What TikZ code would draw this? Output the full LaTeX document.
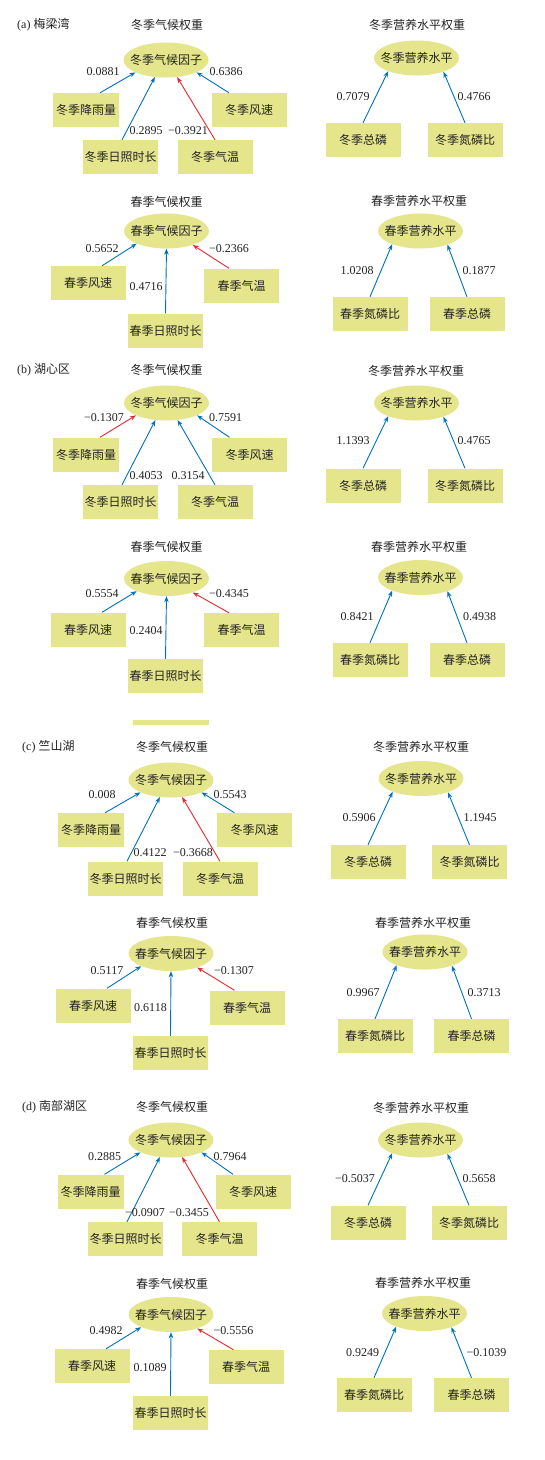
\documentclass[tikz,border=0pt]{standalone}
\usepackage{fontspec}
\setmainfont{Liberation Serif}
\newfontfamily\cjk{Noto Sans CJK SC}
\usetikzlibrary{shapes.geometric,arrows.meta}
\definecolor{boxfill}{RGB}{229,229,140}
\definecolor{arrblue}{RGB}{0,114,188}
\definecolor{arrred}{RGB}{232,40,48}
\definecolor{txt}{RGB}{35,35,35}
\begin{document}
\begin{tikzpicture}[x=1pt,y=-1pt,
  every node/.style={font=\fontsize{12}{14}\selectfont, text=txt},
  ybox/.style={rectangle, fill=boxfill, draw=none, minimum width=75pt, minimum height=34pt, inner sep=0pt, font=\fontsize{12}{14}\selectfont\cjk},
  rbox/.style={ybox, minimum width=66pt},
  ell/.style={ellipse, fill=boxfill, draw=none, minimum width=85pt, minimum height=35pt, inner sep=0pt},
  etext/.style={font=\fontsize{12}{14}\selectfont\cjk, inner sep=0pt},
  ttl/.style={font=\fontsize{12}{14}\selectfont\cjk, inner sep=0pt},
  plab/.style={anchor=west, inner sep=0pt},
  num/.style={inner sep=0pt},
  barrow/.style={draw=arrblue, line width=0.9pt, -{Stealth[length=6pt,width=4.5pt]}},
  rarrow/.style={draw=arrred, line width=0.9pt, -{Stealth[length=6pt,width=4.5pt]}}
]
\useasboundingbox (0,0) rectangle (544,1460);
\fill[white] (0,0) rectangle (544,1460);

% ================= (a) =================
\node[plab] (aL) at (17,25) {(a) {\cjk 梅梁湾}};
% winter climate
\node[ttl] (a1t) at (167,25) {冬季气候权重};
\node[ell] (a1e) at (166,60) {};
\node[etext] (a1x) at (a1e.center) {冬季气候因子};
\node[rbox] (a1r) at (86,110) {冬季降雨量};
\node[ybox] (a1w) at (249,110) {冬季风速};
\node[ybox] (a1s) at (120.5,157) {冬季日照时长};
\node[ybox] (a1m) at (215,157) {冬季气温};
\draw[barrow] ([xshift=14pt]a1r.north) -- (a1e.202);
\draw[barrow] ([xshift=-20pt]a1w.north) -- (a1e.338);
\draw[barrow] ([xshift=1.5pt]a1s.north) -- (a1e.237);
\draw[rarrow] (a1m.north) -- (a1e.303);
\node[num] (a1l1) at (103,72) {0.0881};
\node[num] (a1l2) at (226,72) {0.6386};
\node[num] (a1l3) at (146,131) {0.2895};
\node[num] (a1l4) at (188,131) {−0.3921};
% spring climate
\node[ttl] (a2t) at (166.5,202) {春季气候权重};
\node[ell] (a2e) at (166.5,231) {};
\node[etext] (a2x) at (a2e.center) {春季气候因子};
\node[ybox] (a2w) at (88,283) {春季风速};
\node[ybox] (a2m) at (241.5,285.5) {春季气温};
\node[ybox] (a2s) at (165.5,330.5) {春季日照时长};
\draw[barrow] ([xshift=14pt]a2w.north) -- (a2e.203);
\draw[barrow] (a2s.north) -- (a2e.south);
\draw[rarrow] ([xshift=-12.5pt]a2m.north) -- (a2e.332);
\node[num] (a2l1) at (102,249) {0.5652};
\node[num] (a2l2) at (146,287) {0.4716};
\node[num] (a2l3) at (229,249) {−0.2366};
% winter nutrient
\node[ttl] (a3t) at (417,25) {冬季营养水平权重};
\node[ell] (a3e) at (416.5,58) {};
\node[etext] (a3x) at (a3e.center) {冬季营养水平};
\node[ybox] (a3p) at (363,140) {冬季总磷};
\node[ybox] (a3n) at (465,140) {冬季氮磷比};
\draw[barrow] (a3p.north) -- (a3e.205);
\draw[barrow] (a3n.north) -- (a3e.333);
\node[num] (a3l1) at (353,97) {0.7079};
\node[num] (a3l2) at (474,97) {0.4766};
% spring nutrient
\node[ttl] (a4t) at (419,201) {春季营养水平权重};
\node[ell] (a4e) at (420.5,231) {};
\node[etext] (a4x) at (a4e.center) {春季营养水平};
\node[ybox] (a4n) at (370,314) {春季氮磷比};
\node[ybox] (a4p) at (467,314) {春季总磷};
\draw[barrow] (a4n.north) -- (a4e.205);
\draw[barrow] (a4p.north) -- (a4e.333);
\node[num] (a4l1) at (357,271) {1.0208};
\node[num] (a4l2) at (479,271) {0.1877};

% ================= (b) =================
\node[plab] (bL) at (17,370) {(b) {\cjk 湖心区}};
\node[ttl] (b1t) at (166.5,370) {冬季气候权重};
\node[ell] (b1e) at (166.5,403) {};
\node[etext] (b1x) at (b1e.center) {冬季气候因子};
\node[rbox] (b1r) at (86,454.5) {冬季降雨量};
\node[ybox] (b1w) at (249.5,454.5) {冬季风速};
\node[ybox] (b1s) at (120.5,502) {冬季日照时长};
\node[ybox] (b1m) at (215,502) {冬季气温};
\draw[rarrow] ([xshift=14pt]b1r.north) -- (b1e.202);
\draw[barrow] ([xshift=-20pt]b1w.north) -- (b1e.338);
\draw[barrow] ([xshift=1.5pt]b1s.north) -- (b1e.237);
\draw[barrow] (b1m.north) -- (b1e.303);
\node[num] (b1l1) at (104,418) {−0.1307};
\node[num] (b1l2) at (225.5,418) {0.7591};
\node[num] (b1l3) at (146,476) {0.4053};
\node[num] (b1l4) at (188,476) {0.3154};
\node[ttl] (b2t) at (166.5,547) {春季气候权重};
\node[ell] (b2e) at (166.5,578.5) {};
\node[etext] (b2x) at (b2e.center) {春季气候因子};
\node[ybox] (b2w) at (88,629.5) {春季风速};
\node[ybox] (b2m) at (241.5,630) {春季气温};
\node[ybox] (b2s) at (165.5,676) {春季日照时长};
\draw[barrow] ([xshift=14pt]b2w.north) -- (b2e.203);
\draw[barrow] (b2s.north) -- (b2e.south);
\draw[rarrow] ([xshift=-12.5pt]b2m.north) -- (b2e.332);
\node[num] (b2l1) at (102,594) {0.5554};
\node[num] (b2l2) at (146,631) {0.2404};
\node[num] (b2l3) at (229,594) {−0.4345};
\node[ttl] (b3t) at (416,371) {冬季营养水平权重};
\node[ell] (b3e) at (416.5,403) {};
\node[etext] (b3x) at (b3e.center) {冬季营养水平};
\node[ybox] (b3p) at (363,485.5) {冬季总磷};
\node[ybox] (b3n) at (465,485.5) {冬季氮磷比};
\draw[barrow] (b3p.north) -- (b3e.205);
\draw[barrow] (b3n.north) -- (b3e.333);
\node[num] (b3l1) at (353,441) {1.1393};
\node[num] (b3l2) at (474,441) {0.4765};
\node[ttl] (b4t) at (419,547) {春季营养水平权重};
\node[ell] (b4e) at (420.5,577.5) {};
\node[etext] (b4x) at (b4e.center) {春季营养水平};
\node[ybox] (b4n) at (370,660) {春季氮磷比};
\node[ybox] (b4p) at (467,660) {春季总磷};
\draw[barrow] (b4n.north) -- (b4e.205);
\draw[barrow] (b4p.north) -- (b4e.333);
\node[num] (b4l1) at (357,617) {0.8421};
\node[num] (b4l2) at (479.5,617) {0.4938};
\fill[boxfill] (133,720) rectangle (209,725);

% ================= (c) =================
\node[plab] (cL) at (22,747) {(c) {\cjk 竺山湖}};
\node[ttl] (c1t) at (172,747) {冬季气候权重};
\node[ell] (c1e) at (171,780) {};
\node[etext] (c1x) at (c1e.center) {冬季气候因子};
\node[rbox] (c1r) at (91,830) {冬季降雨量};
\node[ybox] (c1w) at (254.5,830) {冬季风速};
\node[ybox] (c1s) at (125.5,878.5) {冬季日照时长};
\node[ybox] (c1m) at (220,878.5) {冬季气温};
\draw[barrow] ([xshift=14pt]c1r.north) -- (c1e.202);
\draw[barrow] ([xshift=-20pt]c1w.north) -- (c1e.338);
\draw[barrow] ([xshift=1.5pt]c1s.north) -- (c1e.237);
\draw[rarrow] (c1m.north) -- (c1e.303);
\node[num] (c1l1) at (102,795) {0.008};
\node[num] (c1l2) at (230,795) {0.5543};
\node[num] (c1l3) at (150,853) {0.4122};
\node[num] (c1l4) at (193,853) {−0.3668};
\node[ttl] (c2t) at (172,923) {春季气候权重};
\node[ell] (c2e) at (171,953.5) {};
\node[etext] (c2x) at (c2e.center) {春季气候因子};
\node[ybox] (c2w) at (93,1005.5) {春季风速};
\node[ybox] (c2m) at (247,1007.5) {春季气温};
\node[ybox] (c2s) at (170.5,1053) {春季日照时长};
\draw[barrow] ([xshift=14pt]c2w.north) -- (c2e.203);
\draw[barrow] (c2s.north) -- (c2e.south);
\draw[rarrow] ([xshift=-12.5pt]c2m.north) -- (c2e.332);
\node[num] (c2l1) at (107,971) {0.5117};
\node[num] (c2l2) at (150.5,1008) {0.6118};
\node[num] (c2l3) at (234,971) {−0.1307};
\node[ttl] (c3t) at (421,747) {冬季营养水平权重};
\node[ell] (c3e) at (421,778.5) {};
\node[etext] (c3x) at (c3e.center) {冬季营养水平};
\node[ybox] (c3p) at (368,862) {冬季总磷};
\node[ybox] (c3n) at (469.5,862) {冬季氮磷比};
\draw[barrow] (c3p.north) -- (c3e.205);
\draw[barrow] (c3n.north) -- (c3e.333);
\node[num] (c3l1) at (359,818) {0.5906};
\node[num] (c3l2) at (480,818) {1.1945};
\node[ttl] (c4t) at (423,923) {春季营养水平权重};
\node[ell] (c4e) at (425,952) {};
\node[etext] (c4x) at (c4e.center) {春季营养水平};
\node[ybox] (c4n) at (375,1036) {春季氮磷比};
\node[ybox] (c4p) at (471.5,1036) {春季总磷};
\draw[barrow] (c4n.north) -- (c4e.205);
\draw[barrow] (c4p.north) -- (c4e.333);
\node[num] (c4l1) at (363,993) {0.9967};
\node[num] (c4l2) at (484,993) {0.3713};

% ================= (d) =================
\node[plab] (dL) at (22,1107) {(d) {\cjk 南部湖区}};
\node[ttl] (d1t) at (172,1107) {冬季气候权重};
\node[ell] (d1e) at (171,1140) {};
\node[etext] (d1x) at (d1e.center) {冬季气候因子};
\node[rbox] (d1r) at (90.5,1191.5) {冬季降雨量};
\node[ybox] (d1w) at (253,1191.5) {冬季风速};
\node[ybox] (d1s) at (125.5,1239) {冬季日照时长};
\node[ybox] (d1m) at (219.5,1239) {冬季气温};
\draw[barrow] ([xshift=14pt]d1r.north) -- (d1e.202);
\draw[barrow] ([xshift=-20pt]d1w.north) -- (d1e.338);
\draw[barrow] ([xshift=1.5pt]d1s.north) -- (d1e.237);
\draw[rarrow] (d1m.north) -- (d1e.303);
\node[num] (d1l1) at (104.5,1157) {0.2885};
\node[num] (d1l2) at (230,1157) {0.7964};
\node[num] (d1l3) at (145,1213) {−0.0907};
\node[num] (d1l4) at (189,1213) {−0.3455};
\node[ttl] (d2t) at (172,1284) {春季气候权重};
\node[ell] (d2e) at (171,1314.5) {};
\node[etext] (d2x) at (d2e.center) {春季气候因子};
\node[ybox] (d2w) at (92,1366) {春季风速};
\node[ybox] (d2m) at (246,1367) {春季气温};
\node[ybox] (d2s) at (170.5,1413) {春季日照时长};
\draw[barrow] ([xshift=14pt]d2w.north) -- (d2e.203);
\draw[barrow] (d2s.north) -- (d2e.south);
\draw[rarrow] ([xshift=-12.5pt]d2m.north) -- (d2e.332);
\node[num] (d2l1) at (106,1331) {0.4982};
\node[num] (d2l2) at (150,1368) {0.1089};
\node[num] (d2l3) at (233.5,1331) {−0.5556};
\node[ttl] (d3t) at (421,1108) {冬季营养水平权重};
\node[ell] (d3e) at (420.5,1140) {};
\node[etext] (d3x) at (d3e.center) {冬季营养水平};
\node[ybox] (d3p) at (368,1222.5) {冬季总磷};
\node[ybox] (d3n) at (469,1222.5) {冬季氮磷比};
\draw[barrow] (d3p.north) -- (d3e.205);
\draw[barrow] (d3n.north) -- (d3e.333);
\node[num] (d3l1) at (355,1179) {−0.5037};
\node[num] (d3l2) at (479,1179) {0.5658};
\node[ttl] (d4t) at (423,1283) {春季营养水平权重};
\node[ell] (d4e) at (424.5,1313.5) {};
\node[etext] (d4x) at (d4e.center) {春季营养水平};
\node[ybox] (d4n) at (374,1395) {春季氮磷比};
\node[ybox] (d4p) at (471.5,1395) {春季总磷};
\draw[barrow] (d4n.north) -- (d4e.205);
\draw[barrow] (d4p.north) -- (d4e.333);
\node[num] (d4l1) at (362.5,1353) {0.9249};
\node[num] (d4l2) at (486.5,1353) {−0.1039};
\end{tikzpicture}
\end{document}
